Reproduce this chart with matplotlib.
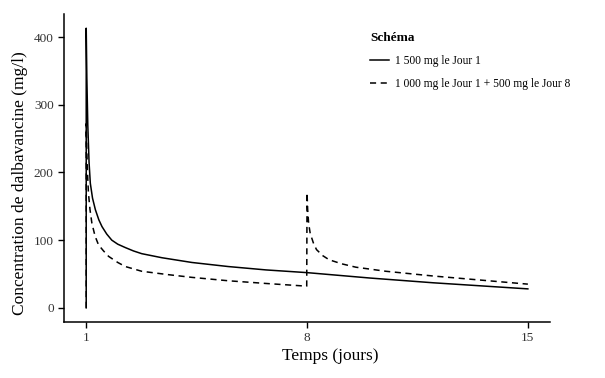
import matplotlib.pyplot as plt

plt.rcParams['font.family'] = ['Liberation Serif', 'DejaVu Serif']

# Schema 1: 1 500 mg on day 1
t_single = [1, 1, 1.02, 1.05, 1.09, 1.13, 1.2, 1.29, 1.4, 1.5, 1.65, 1.81, 2.0, 2.24, 2.5, 2.76,
            3.4, 4.35, 5.5, 6.7, 8.0, 10.0, 12.0, 15.0]
c_single = [0, 413, 340, 270, 215, 184, 162, 145, 130, 120, 109, 100, 94, 89, 84, 80,
            74, 67, 61, 56, 52, 44, 37, 28]

# Schema 2: 1 000 mg on day 1 + 500 mg on day 8
t_split = [1, 1, 1.02, 1.04, 1.07, 1.12, 1.18, 1.28, 1.39, 1.55, 1.71, 2.0, 2.24, 2.76, 3.6,
           4.35, 5.5, 6.7, 7.99,
           8.0, 8.02, 8.05, 8.1, 8.2, 8.3, 8.5, 8.7, 9.1, 9.55, 10.5, 12.0, 13.5, 15.0]
c_split = [0, 272, 230, 200, 170, 145, 125, 106, 93, 84, 76, 67, 61, 54, 49,
           45, 40, 36, 32,
           170, 145, 125, 110, 96, 86, 77, 71, 65, 60, 54, 47, 41, 35]

labels = ['1 500 mg le Jour 1', '1 000 mg le Jour 1 + 500 mg le Jour 8']
x_ticks = [1, 8, 15]
y_ticks = [0, 100, 200, 300, 400]

fig = plt.figure(figsize=(6.05, 3.78), dpi=100)
ax = fig.add_axes([0.106, 0.148, 0.803, 0.815])

ax.plot(t_single, c_single, color='black', lw=1.1, label=labels[0])
ax.plot(t_split, c_split, color='black', lw=1.1, ls=(0, (4, 3)), label=labels[1])

ax.set_xlim(0.3, 15.7)
ax.set_ylim(-21, 434)
ax.set_xticks(x_ticks)
ax.set_yticks(y_ticks)
ax.spines['top'].set_visible(False)
ax.spines['right'].set_visible(False)
for s in ['left', 'bottom']:
    ax.spines[s].set_linewidth(1.1)
ax.tick_params(labelsize=9.5, length=4, width=1, colors='black', labelcolor='#333333')

ax.set_xlabel('Temps (jours)', fontsize=12.5, labelpad=1)
ax.xaxis.set_label_coords(0.547, -0.085)
ax.set_ylabel('Concentration de dalbavancine (mg/l)', fontsize=12.5)
ax.yaxis.set_label_coords(-0.074, 0.45)

leg = ax.legend(loc='upper left', bbox_to_anchor=(360 / 605, 1 - 22 / 378),
                bbox_transform=fig.transFigure, frameon=False, fontsize=8.3,
                title='Schéma', title_fontproperties={'weight': 'bold', 'size': 9.5},
                alignment='left', handlelength=1.6, handletextpad=0.5, labelspacing=0.95)

fig.savefig('out.png', dpi=100)
